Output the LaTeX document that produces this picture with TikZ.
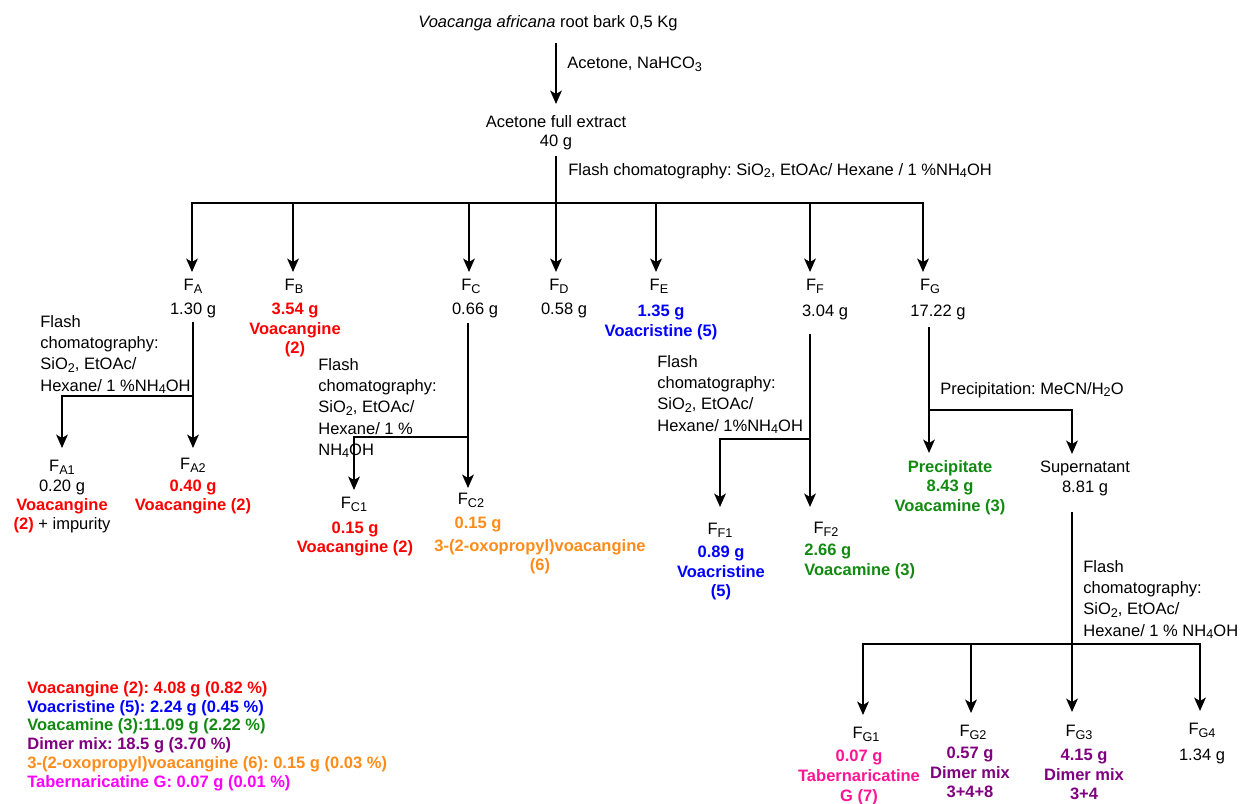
\documentclass[tikz,border=0pt]{standalone}
\usepackage{fontspec}
\setmainfont{Liberation Sans}
\usepackage{xcolor}
\usetikzlibrary{arrows.meta}
\frenchspacing

\definecolor{colorRed}{HTML}{FF0000}
\definecolor{colorBlue}{HTML}{0000FF}
\definecolor{colorGreen}{HTML}{128A12}
\definecolor{colorPurple}{HTML}{800080}
\definecolor{colorOrange}{HTML}{FF8C1A}
\definecolor{colorMagenta}{HTML}{FF00FF}
\definecolor{colorPink}{HTML}{FF1493}
\def\colorRed{colorRed}
\def\colorBlue{colorBlue}
\def\colorGreen{colorGreen}
\def\colorPurple{colorPurple}
\def\colorOrange{colorOrange}
\def\colorMagenta{colorMagenta}
\def\colorPink{colorPink}
% indice un peu plus grand que \textsubscript
\newcommand{\fsub}[1]{\raisebox{-1.4pt}{\fontsize{7.2pt}{7.5pt}\selectfont #1}}

\begin{document}
\begin{tikzpicture}[x=0.02cm, y=-0.02cm,
    txt/.style={inner sep=0pt, anchor=north, align=center, font=\fontsize{9.4pt}{11.2pt}\selectfont},
    res/.style={txt, font=\fontsize{9.4pt}{11.2pt}\selectfont\bfseries},
    note/.style={inner sep=0pt, anchor=north west, align=left, font=\fontsize{9.4pt}{12.1pt}\selectfont},
    ln/.style={line width=1.15pt},
    arr/.style={ln, -{Stealth[length=7.6pt, width=6.6pt, inset=1.9pt]}}]

    \useasboundingbox (0,0) rectangle (1240,804);

    % Ecorce et extrait
    \node[txt] (bark) at (548,15) {\textit{Voacanga africana} root bark 0,5 Kg};
    \node[txt] (extract) at (556,115) {Acetone full extract\\40 g};
    \draw[arr, shorten <=0.23cm, shorten >=0.22cm] (bark.south -| extract) -- (extract.north);
    \node[note] (solv) at (567,57) {Acetone, NaHCO\fsub{3}};
    \node[note] (flash0) at (568,163) {Flash chomatography: SiO\fsub{2}, EtOAc/ Hexane / 1 \%NH\fsub{4}OH};

    % Fractions F_A ... F_G
    \foreach \n/\x/\t in {FA/193/A, FB/294/B, FC/471/C, FD/559/D, FE/659/E, FF/815/F, FG/930/G}
        \node[txt] (\n) at (\x,279) {F\fsub{\t}};

    \node[txt] (FAw) at (193,303) {1.30 g};
    \node[res, \colorRed, font=\fontsize{9.4pt}{11.1pt}\selectfont\bfseries] (FBw) at (295,303) {3.54 g\\Voacangine\\(2)};
    \node[txt] (FCw) at (475,303) {0.66 g};
    \node[txt] (FDw) at (564,303) {0.58 g};
    \node[res, \colorBlue] (FEw) at (661,305) {1.35 g\\Voacristine (5)};
    \node[txt] (FFw) at (825,305) {3.04 g};
    \node[txt] (FGw) at (938,305) {17.22 g};

    \coordinate (bA) at (192,203);
    \coordinate (bB) at (293,203);
    \coordinate (bC) at (469,203);
    \coordinate (bD) at (556,203);
    \coordinate (bE) at (656,203);
    \coordinate (bF) at (810,203);
    \coordinate (bG) at (923,203);

    \draw[ln, line cap=rect] (bA) -- (bG);
    \draw[arr, shorten <=0.11cm, shorten >=0.14cm] (extract.south -| bD) -- (bD |- FD.north);
    \foreach \b/\n in {bA/FA, bB/FB, bC/FC, bE/FE, bF/FF, bG/FG}
        \draw[arr, shorten >=0.14cm] (\b) -- (\b |- \n.north);

    % Branche F_A
    \node[note] (flashA) at (40,315) {Flash\\chomatography:\\SiO\fsub{2}, EtOAc/\\Hexane/ 1 \%NH\fsub{4}OH};
    \node[txt] (FA1) at (62,460) {F\fsub{A1}};
    \node[txt] (FA2) at (193,458) {F\fsub{A2}};
    \node[txt, font=\fontsize{9.4pt}{10.7pt}\selectfont] (FA1w) at (62,480)
        {0.20 g\\{\bfseries\color{\colorRed}Voacangine}\\{\bfseries\color{\colorRed}(2)} + impurity};
    \node[res, \colorRed, font=\fontsize{9.4pt}{10.5pt}\selectfont\bfseries] (FA2w) at (193,480) {0.40 g\\Voacangine (2)};

    \coordinate (jA) at (193,396);
    \draw[arr, shorten <=0.07cm, shorten >=0.2cm] (FAw.south -| jA) -- (jA |- FA2.north);
    \draw[arr, shorten >=0.24cm] (jA) -| (FA1.north);

    % Branche F_C
    \node[note] (flashC) at (318,358) {Flash\\chomatography:\\SiO\fsub{2}, EtOAc/\\Hexane/ 1 \%\\NH\fsub{4}OH};
    \node[txt] (FC1) at (354,497) {F\fsub{C1}};
    \node[txt] (FC2) at (471,493) {F\fsub{C2}};
    \node[res, \colorRed, font=\fontsize{9.4pt}{10.7pt}\selectfont\bfseries] (FC1w) at (355,522) {0.15 g\\Voacangine (2)};
    \node[res, \colorOrange] (FC2w) at (478,517) {0.15 g};
    \node[res, \colorOrange, font=\fontsize{9.4pt}{10.8pt}\selectfont\bfseries] (FC2n) at (540,539) {3-(2-oxopropyl)voacangine\\(6)};

    \coordinate (jC) at (468,437);
    \draw[arr, shorten <=0.09cm, shorten >=0.1cm] (FCw.south -| jC) -- (jC |- FC2.north);
    \draw[arr, shorten >=0.14cm] (jC) -| (FC1.north);

    % Branche F_F
    \node[note] (flashF) at (657,355) {Flash\\chomatography:\\SiO\fsub{2}, EtOAc/\\Hexane/ 1\%NH\fsub{4}OH};
    \node[txt] (FF1) at (720,523) {F\fsub{F1}};
    \node[txt] (FF2) at (826,522) {F\fsub{F2}};
    \node[res, \colorBlue, font=\fontsize{9.4pt}{11.1pt}\selectfont\bfseries] (FF1w) at (721,546) {0.89 g\\Voacristine\\(5)};
    \node[note, \colorGreen, font=\fontsize{9.4pt}{10.9pt}\selectfont\bfseries] (FF2w) at (804,544) {2.66 g\\Voacamine (3)};

    \coordinate (jF) at (810,439);
    \draw[arr, shorten <=0.27cm, shorten >=0.3cm] (FFw.south -| jF) -- (jF |- FF2.north);
    \draw[arr, shorten >=0.32cm] (jF) -| (FF1.north);

    % Branche F_G : precipitation
    \node[note] (precip) at (940,382) {Precipitation: MeCN/H\fsub{2}O};
    \node[res, \colorGreen, font=\fontsize{9.4pt}{11.1pt}\selectfont\bfseries] (prec) at (950,460) {Precipitate\\8.43 g\\Voacamine (3)};
    \node[txt, font=\fontsize{9.4pt}{10.9pt}\selectfont] (sup) at (1085,461) {Supernatant\\8.81 g};

    \coordinate (jG) at (929,410);
    \coordinate (jG2) at (1072,410);
    \draw[arr, shorten <=0.13cm, shorten >=0.14cm] (FGw.south -| jG) -- (jG |- prec.north);
    \draw[arr, shorten >=0.14cm] (jG) -- (jG2) -- (jG2 |- sup.north);

    % Surnageant : fractions F_G1 ... F_G4
    \node[note] (flashS) at (1083,560) {Flash\\chomatography:\\SiO\fsub{2}, EtOAc/\\Hexane/ 1 \% NH\fsub{4}OH};
    \node[txt] (FG1) at (866,727) {F\fsub{G1}};
    \node[txt] (FG2) at (973,725) {F\fsub{G2}};
    \node[txt] (FG3) at (1079,725) {F\fsub{G3}};
    \node[txt] (FG4) at (1202,723) {F\fsub{G4}};
    \node[res, \colorPink, font=\fontsize{9.4pt}{11.3pt}\selectfont\bfseries] (FG1w) at (859,750) {0.07 g\\Tabernaricatine\\G (7)};
    \node[res, \colorPurple, font=\fontsize{9.4pt}{11.1pt}\selectfont\bfseries] (FG2w) at (970,747) {0.57 g\\Dimer mix\\3+4+8};
    \node[res, \colorPurple, font=\fontsize{9.4pt}{11.1pt}\selectfont\bfseries] (FG3w) at (1084,749) {4.15 g\\Dimer mix\\3+4};
    \node[txt] (FG4w) at (1202,749) {1.34 g};

    \coordinate (jS) at (1072,644);
    \coordinate (gA) at (863,644);
    \coordinate (gB) at (971,644);
    \coordinate (gD) at (1200,644);
    \draw[ln, line cap=rect] (gA) -- (gD);
    \draw[arr, shorten <=0.33cm, shorten >=0.26cm] (sup.south -| jS) -- (jS |- FG3.north);
    \foreach \g/\n in {gA/FG1, gB/FG2, gD/FG4}
        \draw[arr, shorten >=0.24cm] (\g) -- (\g |- \n.north);

    % Bilan
    \node[note, font=\fontsize{9.4pt}{10.7pt}\selectfont\bfseries] (bilan) at (27,681)
        {\textcolor{\colorRed}{Voacangine (2): 4.08 g (0.82 \%)}\\
         \textcolor{\colorBlue}{Voacristine (5): 2.24 g (0.45 \%)}\\
         \textcolor{\colorGreen}{Voacamine (3):11.09 g (2.22 \%)}\\
         \textcolor{\colorPurple}{Dimer mix: 18.5 g (3.70 \%)}\\
         \textcolor{\colorOrange}{3-(2-oxopropyl)voacangine (6): 0.15 g (0.03 \%)}\\
         \textcolor{\colorMagenta}{Tabernaricatine G: 0.07 g (0.01 \%)}};

\end{tikzpicture}
\end{document}
